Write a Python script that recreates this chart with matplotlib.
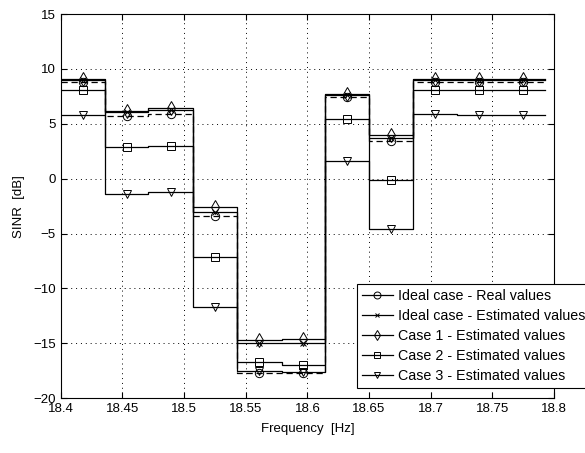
import numpy as np
import matplotlib
matplotlib.use('Agg')
import matplotlib.pyplot as plt

plt.rcParams['font.family'] = ['Liberation Sans', 'DejaVu Sans']
plt.rcParams['font.size'] = 9

# ============================================================
# data: 11 sub-bands, SINR per sub-band
# ============================================================
freq_edges = [18.400, 18.436, 18.471, 18.507, 18.543, 18.579,
              18.614, 18.650, 18.686, 18.721, 18.757, 18.793]

ideal_real = [8.8, 5.67, 5.88, -3.38, -17.75, -17.7, 7.45, 3.41, 8.8, 8.8, 8.8]
ideal_est = [8.95, 6.04, 6.24, -3.0, -14.93, -15.0, 7.6, 3.75, 8.95, 8.95, 8.95]
case1 = [9.11, 6.18, 6.43, -2.62, -14.72, -14.57, 7.75, 4.0, 9.05, 9.05, 9.05]
case2 = [8.05, 2.87, 3.0, -7.18, -16.7, -16.95, 5.4, -0.15, 8.05, 8.05, 8.05]
case3 = [5.79, -1.42, -1.2, -11.7, -17.5, -17.6, 1.57, -4.6, 5.88, 5.79, 5.79]

labels = ['Ideal case - Real values', 'Ideal case - Estimated values',
          'Case 1 - Estimated values', 'Case 2 - Estimated values',
          'Case 3 - Estimated values']


def stair_xy(edges, vals):
    """left edge + centre per band, steps-post; markers on the centres"""
    xs, ys = [], []
    for k, v in enumerate(vals):
        xs += [edges[k], 0.5 * (edges[k] + edges[k + 1])]
        ys += [v, v]
    xs.append(edges[-1])
    ys.append(vals[-1])
    return np.array(xs), np.array(ys)


fig = plt.figure(figsize=(5.85, 4.53), dpi=100)
ax = fig.add_axes([0.104, 0.121, 0.843, 0.848])

styles = [('o', (0, (5, 3)), 6), ('x', '-', 4), ('d', '-', 7),
          ('s', '-', 6), ('v', '-', 6)]
series = [ideal_real, ideal_est, case1, case2, case3]
for vals, (mk, ls, ms), lab in zip(series, styles, labels):
    xs, ys = stair_xy(freq_edges, vals)
    ax.plot(xs, ys, color='k', lw=0.9, linestyle=ls, drawstyle='steps-post',
            marker=mk, markevery=list(range(1, len(xs) - 1, 2)),
            markersize=ms, markerfacecolor='none',
            markeredgewidth=0.7, label=lab)

ax.set_xlim(18.4, 18.8)
ax.set_ylim(-20, 15)
ax.set_xticks(np.arange(18.4, 18.8001, 0.05))
ax.set_xticklabels(['18.4', '18.45', '18.5', '18.55', '18.6',
                    '18.65', '18.7', '18.75', '18.8'])
ax.set_yticks(np.arange(-20, 15.1, 5))
ax.tick_params(direction='in', length=4, width=0.8, top=True, right=True,
               labelsize=9.5)
ax.grid(True, color='k', linestyle=(0, (1, 4)), linewidth=0.7)
for s in ax.spines.values():
    s.set_linewidth(0.8)

ax.set_xlabel('Frequency  [Hz]', labelpad=6, fontsize=9.5)
ax.set_ylabel('SINR  [dB]', labelpad=6, fontsize=9.5)

leg = ax.legend(loc='lower left', bbox_to_anchor=(0.60, 0.026), borderaxespad=0,
                fancybox=False, edgecolor='k', framealpha=1, handlelength=2.2,
                handletextpad=0.3, labelspacing=0.42, borderpad=0.35,
                fontsize=10.3)
leg.get_frame().set_linewidth(0.8)
for ln in leg.get_lines():
    ln.set_linestyle('-')
    ln.set_markersize(5 if ln.get_marker() != 'x' else 3.5)

fig.savefig('out.png', dpi=100)
